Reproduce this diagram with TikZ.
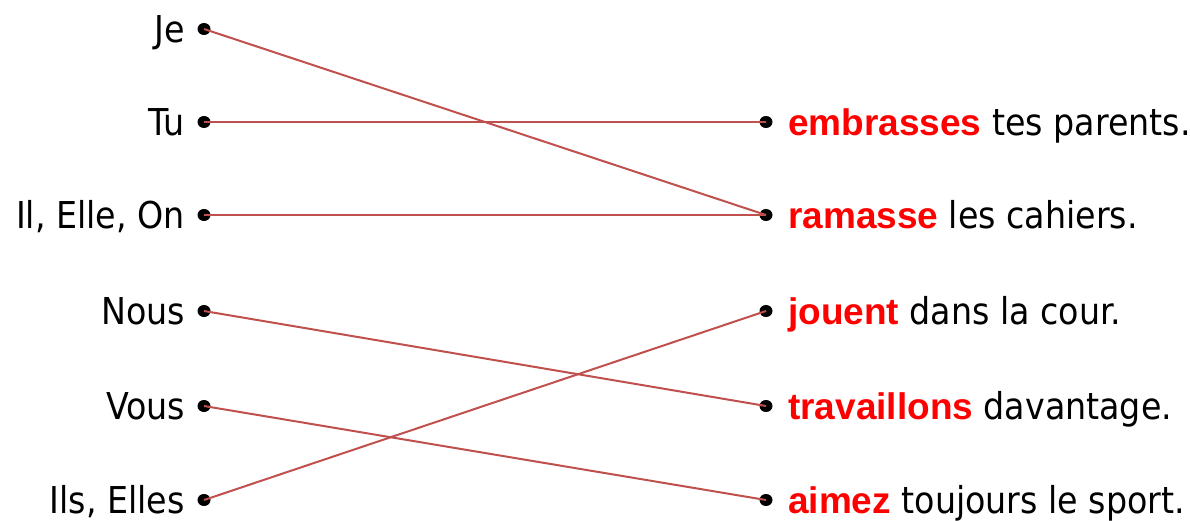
\documentclass[tikz,border=0pt]{standalone}
\usepackage{fontspec}
\usetikzlibrary{shapes.geometric}
\setmainfont{Liberation Sans}
\newfontfamily\tah{DejaVu Sans Condensed}
\definecolor{linkred}{RGB}{192,80,77}
\definecolor{verbred}{RGB}{255,0,0}
\begin{document}
\begin{tikzpicture}[x=1pt,y=-1pt,
  dotmark/.style={ellipse,fill=black,inner sep=0pt,minimum width=13pt,minimum height=12pt},
  lefttxt/.style={anchor=base east,inner sep=0pt,font=\tah\fontsize{37}{44}\selectfont},
  righttxt/.style={anchor=base west,inner sep=0pt,font=\tah\fontsize{37}{44}\selectfont},
  link/.style={draw=linkred,line width=2pt}]
\useasboundingbox (0,0) rectangle (1190,520);
% left dots
\foreach \n/\y in {je/29,tu/122,il/215,nous/311,vous/406,ils/500}{
  \node[dotmark] (\n) at (204,\y) {};
}
% right dots
\foreach \n/\y in {emb/122,ram/215,jou/311,tra/406,aim/500}{
  \node[dotmark] (\n) at (766,\y) {};
}
% left labels
\node[lefttxt] (tje) at (185,42.5) {Je};
\node[lefttxt] (ttu) at (185,135.5) {Tu};
\node[lefttxt] (til) at (185,228.5) {Il, Elle, On};
\node[lefttxt] (tnous) at (185,324.5) {Nous};
\node[lefttxt] (tvous) at (185,419.5) {Vous};
\node[lefttxt] (tils) at (185,513.5) {Ils, Elles};
% right labels
\node[righttxt] (temb) at (788,135.5) {{\color{verbred}\fontspec{Liberation Sans}\bfseries embrasses} tes parents.};
\node[righttxt] (tram) at (788,228.5) {{\color{verbred}\fontspec{Liberation Sans}\bfseries ramasse} les cahiers.};
\node[righttxt] (tjou) at (788,324.5) {{\color{verbred}\fontspec{Liberation Sans}\bfseries jouent} dans la cour.};
\node[righttxt] (ttra) at (788,419.5) {{\color{verbred}\fontspec{Liberation Sans}\bfseries travaillons} davantage.};
\node[righttxt] (taim) at (788,513.5) {{\color{verbred}\fontspec{Liberation Sans}\bfseries aimez} toujours le sport.};
% links
\draw[link] (je.center) -- (ram.center);
\draw[link] (tu.center) -- (emb.center);
\draw[link] (il.center) -- (ram.center);
\draw[link] (nous.center) -- (tra.center);
\draw[link] (vous.center) -- (aim.center);
\draw[link] (ils.center) -- (jou.center);
\end{tikzpicture}
\end{document}
